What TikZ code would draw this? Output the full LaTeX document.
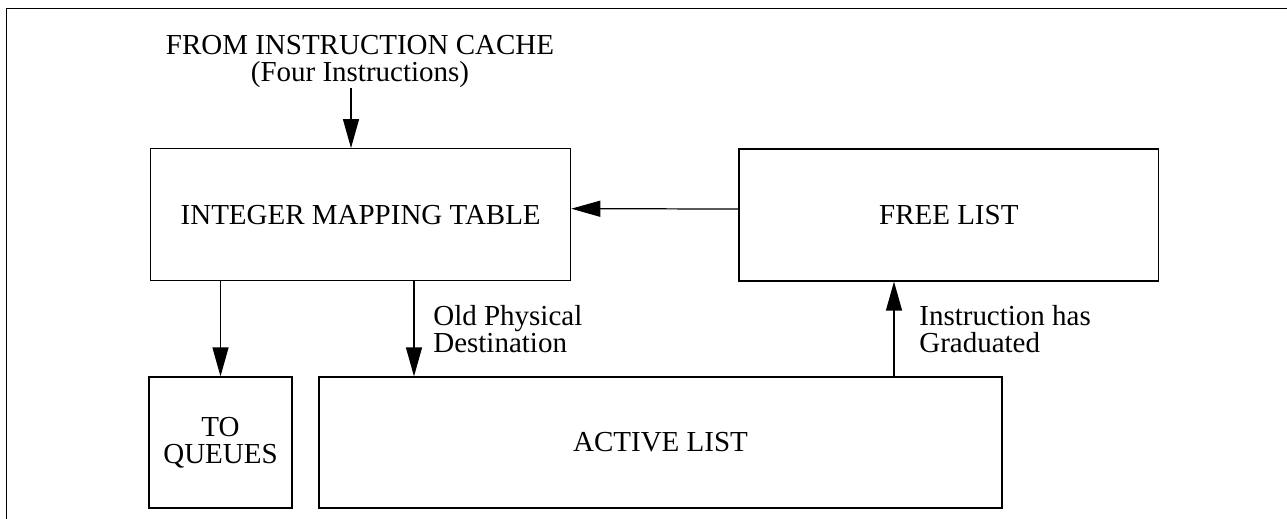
\documentclass[tikz,border=0pt]{standalone}
\usepackage{fontspec}
\setmainfont{Liberation Serif}
\usetikzlibrary{arrows.meta,calc}
\newcommand{\labelfont}{\fontsize{16.5}{15.2}\selectfont}
\tikzset{
	unit/.style={draw,line width=0.7pt,inner sep=0pt,align=center,font=\labelfont},%
	flow/.style={line width=0.7pt,-{Triangle[length=0.58cm,width=0.32cm]}},%
	note/.style={inner sep=0pt,align=left,anchor=north west,font=\labelfont},%
	outerframe/.style={line width=0.8pt},%
}

\begin{document}
\begin{tikzpicture}[x=0.02cm,y=-0.02cm]
	\useasboundingbox (0,0) rectangle (1287,519);
	\clip (0,0) rectangle (1287,519);
	\draw[outerframe] (6.7,8.7) rectangle (1300,530);
	% Blocks {{{
	\node[unit,align=center,anchor=north,draw=none] (src) at (360,35) {FROM INSTRUCTION CACHE\\(Four Instructions)};
	\node[unit,minimum width=8.4cm,minimum height=2.64cm] (imt) at (360.7,214.7) {INTEGER MAPPING TABLE};
	\node[unit,minimum width=8.39cm,minimum height=2.64cm] (free) at (948.8,215) {FREE LIST};
	\node[unit,minimum width=2.86cm,minimum height=2.62cm] (toq) at (220.5,442.5) {TO\\QUEUES};
	\node[unit,minimum width=13.66cm,minimum height=2.62cm] (act) at (660.5,442.5) {ACTIVE LIST};
	% }}}
	% Flows {{{
	\coordinate (fetchx) at (351,0);
	\coordinate (oldx) at (414,0);
	\coordinate (gradx) at (894,0);
	\draw[flow] (src.south -| fetchx) -- (imt.north -| fetchx);
	\draw[flow] ($(free.west)+(0,-6)$) -- ($(imt.east)+(0,-6)$);
	\draw[flow] (imt.south -| toq.north) -- (toq.north);
	\draw[flow] (imt.south -| oldx) -- (act.north -| oldx);
	\draw[flow] (act.north -| gradx) -- (free.south -| gradx);
	% }}}
	\node[note] (oldlbl) at (433,305) {Old Physical\\Destination};
	\node[note] (gradlbl) at (919,305) {Instruction has\\Graduated};
\end{tikzpicture}
\end{document}
